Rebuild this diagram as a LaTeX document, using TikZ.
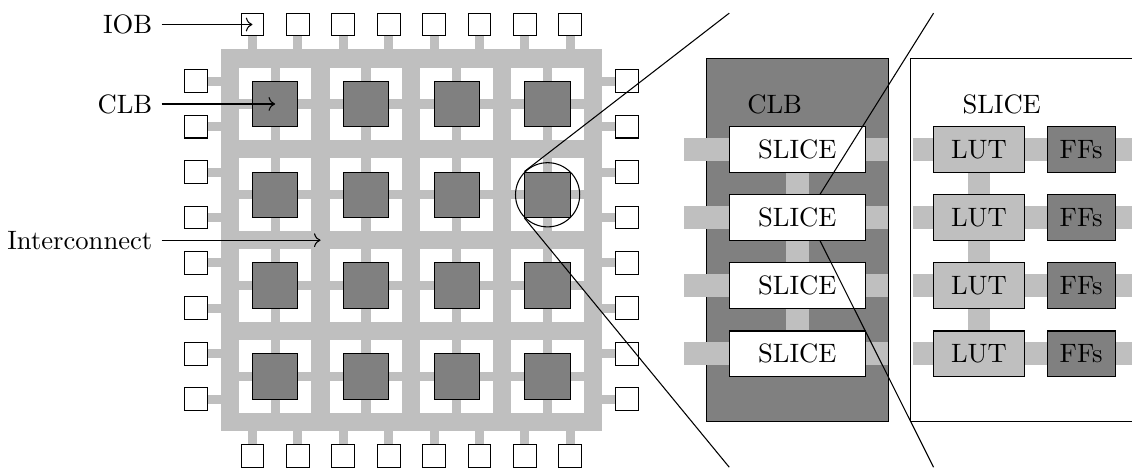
\documentclass[tikz,border=0pt]{standalone}
\usetikzlibrary{arrows.meta}

\begin{document}
\begin{tikzpicture}[x=0.6cm, y=0.6cm, >=To,
  blk/.style={draw, inner sep=0pt},
  iob/.style={blk, fill=white, minimum size=0.3cm},
  clb/.style={blk, fill=gray, minimum size=0.6cm},
  slice/.style={blk, fill=white, minimum width=1.8cm, minimum height=0.6cm},
  lut/.style={blk, fill=lightgray, minimum width=1.2cm, minimum height=0.6cm},
  ffs/.style={blk, fill=gray, minimum width=0.9cm, minimum height=0.6cm}]
\useasboundingbox (-4.86,-0.8) rectangle (20.07,9.49);

% fabric with interconnect
\fill[lightgray] (0,0) rectangle (8.4,8.4);
\foreach \i in {0,...,3}
  \foreach \j in {0,...,3} {
    \fill[white] (0.4+2*\i,0.4+2*\j) rectangle ++(1.6,1.6);
    \fill[lightgray] (1.1+2*\i,0.4+2*\j) rectangle ++(0.2,1.6);
    \fill[lightgray] (0.4+2*\i,1.1+2*\j) rectangle ++(1.6,0.2);
    \node[clb] (clb\i\j) at (1.2+2*\i,1.2+2*\j) {};
  }

% IOBs on all four sides
\foreach \k in {0,...,7} {
  \fill[lightgray] (0.6+\k,8.4) rectangle ++(0.2,0.3);
  \fill[lightgray] (0.6+\k,0) rectangle ++(0.2,-0.3);
  \fill[lightgray] (0,0.6+\k) rectangle ++(-0.3,0.2);
  \fill[lightgray] (8.4,0.6+\k) rectangle ++(0.3,0.2);
  \node[iob] (iobt\k) at (0.7+\k,8.95) {};
  \node[iob] (iobb\k) at (0.7+\k,-0.55) {};
  \node[iob] (iobl\k) at (-0.55,0.7+\k) {};
  \node[iob] (iobr\k) at (8.95,0.7+\k) {};
}

% labels
\node[anchor=east] (tiob) at (-1.3,8.95) {IOB};
\node[anchor=east] (tclb) at (-1.3,7.2) {CLB};
\node[anchor=east] (tint) at (-1.3,4.2) {Interconnect};
\coordinate (ic) at (2.2,4.2);
\draw[->] (tiob) -- (iobt0.center);
\draw[->] (tclb) -- (clb03.center);
\draw[->] (tint) -- (ic);

% zoom into one CLB
\draw (clb32.center) circle[radius=0.707];
\coordinate (zt) at (11.2,9.2);
\coordinate (zb) at (11.2,-0.8);
\draw (clb32.north west) -- (zt);
\draw (clb32.south west) -- (zb);

% CLB
\node[blk, fill=gray, minimum width=2.4cm, minimum height=4.8cm] (clbp) at (12.7,4.2) {};
\fill[lightgray] (12.45,1.7) rectangle (12.95,6.2);
\foreach \n/\y in {1/6.2,2/4.7,3/3.2,4/1.7} {
  \fill[lightgray] (10.2,\y-0.25) rectangle (14.7,\y+0.25);
  \node[slice] (s\n) at (12.7,\y) {SLICE};
}
\node (clbtxt) at (12.2,7.2) {CLB};

% zoom into one SLICE
\coordinate (st) at (15.7,9.2);
\coordinate (sb) at (15.7,-0.8);
\draw ([xshift=0.3cm]s2.north) -- (st);
\draw ([xshift=0.3cm]s2.south) -- (sb);

% SLICE
\node[blk, fill=white, minimum width=3.6cm, minimum height=4.8cm] (slp) at (18.2,4.2) {};
\fill[lightgray] (16.45,1.7) rectangle (16.95,6.2);
\foreach \n/\y in {1/6.2,2/4.7,3/3.2,4/1.7} {
  \fill[lightgray] (15.25,\y-0.25) rectangle (21,\y+0.25);
  \node[lut] (l\n) at (16.7,\y) {LUT};
  \node[ffs] (f\n) at (18.95,\y) {FFs};
}
\node (sltxt) at (17.2,7.2) {SLICE};
\end{tikzpicture}
\end{document}
